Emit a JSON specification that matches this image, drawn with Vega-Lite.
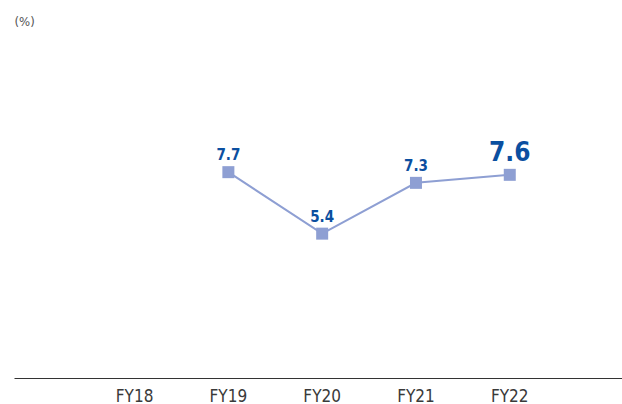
{
  "$schema": "https://vega.github.io/schema/vega-lite/v6.json",
  "width": 608,
  "height": 378,
  "autosize": {"type": "none"},
  "padding": {"left": 14, "top": 0, "right": 0, "bottom": 26},
  "background": "white",
  "config": {"view": {"stroke": null}},
  "data": {
    "values": [
      {"year": "FY18", "value": null},
      {"year": "FY19", "value": 7.7},
      {"year": "FY20", "value": 5.4},
      {"year": "FY21", "value": 7.3},
      {"year": "FY22", "value": 7.6}
    ]
  },
  "encoding": {
    "x": {
      "field": "year",
      "type": "ordinal",
      "scale": {"type": "band", "domain": ["FY18", "FY19", "FY20", "FY21", "FY22"], "paddingInner": 0, "paddingOuter": 0.741, "align": 0.53},
      "axis": {
        "title": null,
        "ticks": false,
        "grid": false,
        "domainColor": "#333333",
        "domainWidth": 1,
        "labelAngle": 0,
        "labelFont": "DejaVu Sans Condensed, Liberation Sans",
        "labelFontSize": 17,
        "labelColor": "#3a3a3a",
        "labelBaseline": "alphabetic",
        "labelPadding": 23
      }
    },
    "y": {
      "field": "value",
      "type": "quantitative",
      "scale": {"domain": [0, 14.14], "nice": false, "zero": true},
      "axis": {
        "title": "(%)",
        "titleAngle": 0,
        "titleAlign": "left",
        "titleBaseline": "alphabetic",
        "titleX": 0,
        "titleY": 25,
        "titleFont": "DejaVu Sans Condensed, Liberation Sans",
        "titleFontSize": 13,
        "titleFontWeight": "normal",
        "titleColor": "#555555",
        "domain": false,
        "ticks": false,
        "labels": false,
        "grid": false
      }
    }
  },
  "layer": [
    {
      "transform": [{"filter": "datum.value != null"}],
      "mark": {"type": "line", "color": "#8e9fd3", "strokeWidth": 2}
    },
    {
      "transform": [{"filter": "datum.value != null"}],
      "mark": {"type": "point", "shape": "square", "size": 144, "filled": true, "color": "#8e9fd3", "opacity": 1}
    },
    {
      "transform": [{"filter": "datum.value != null && datum.year != 'FY22'"}],
      "mark": {"type": "text", "font": "DejaVu Sans Condensed, Liberation Sans", "fontWeight": "bold", "fontSize": 15, "color": "#0b4fa0", "baseline": "alphabetic", "dy": -12},
      "encoding": {"text": {"field": "value", "type": "quantitative", "format": ".1f"}}
    },
    {
      "transform": [{"filter": "datum.year == 'FY22'"}],
      "mark": {"type": "text", "font": "DejaVu Sans Condensed, Liberation Sans", "fontWeight": "bold", "fontSize": 26, "color": "#0b4fa0", "baseline": "alphabetic", "dy": -14},
      "encoding": {"text": {"field": "value", "type": "quantitative", "format": ".1f"}}
    }
  ]
}
